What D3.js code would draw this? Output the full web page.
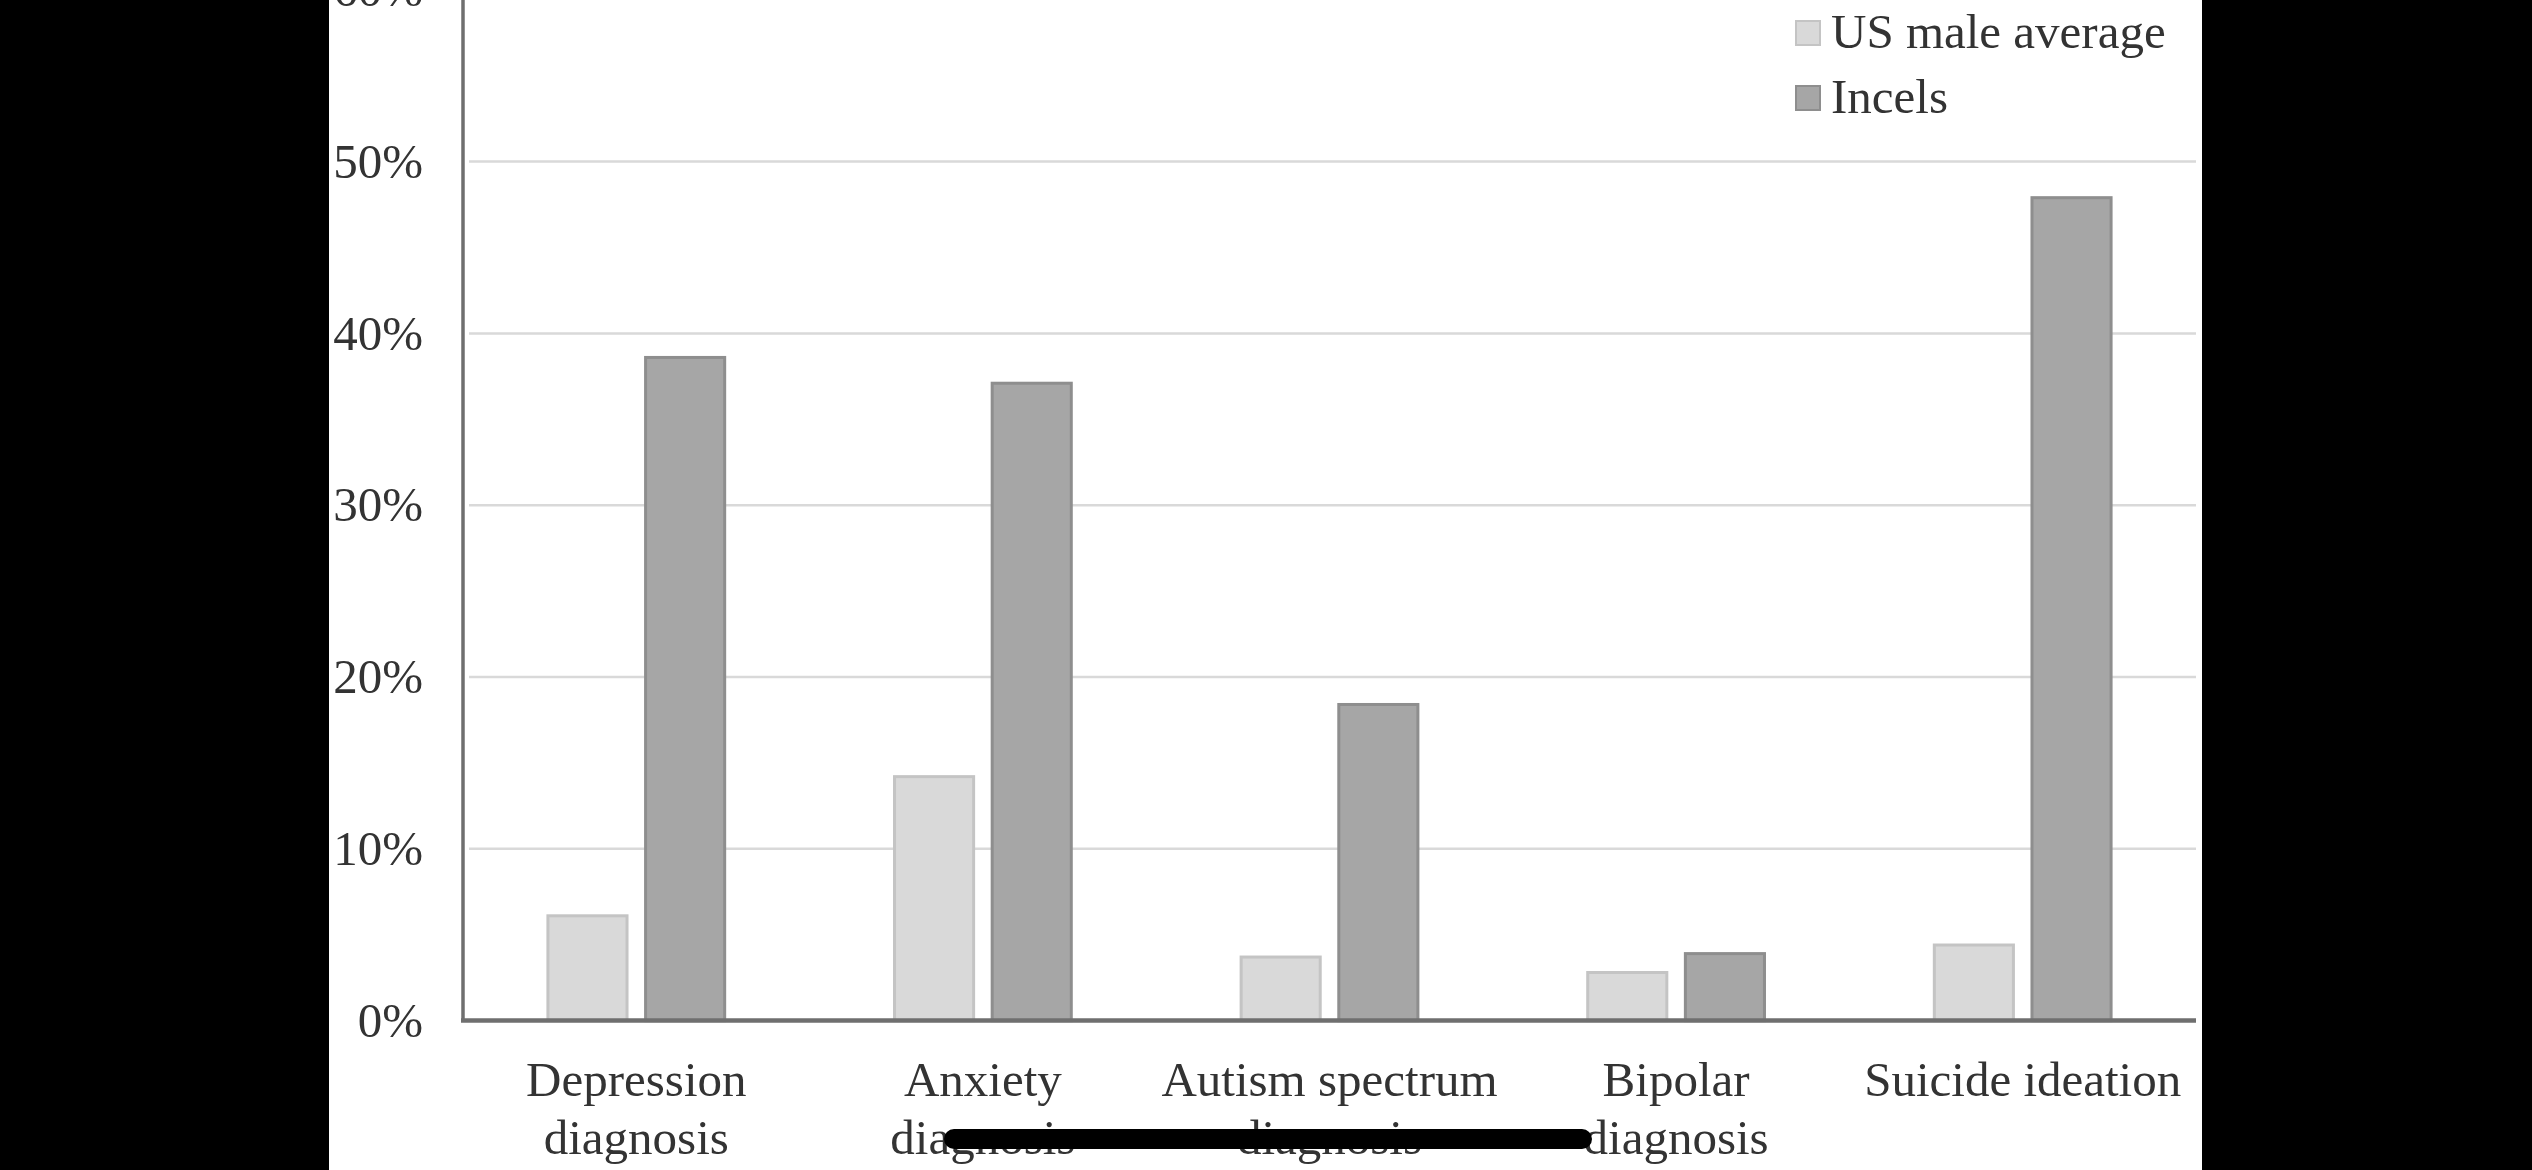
<!DOCTYPE html>
<html>
<head>
<meta charset="utf-8">
<script src="https://cdn.jsdelivr.net/npm/d3@7"></script>
<style>
  html, body { margin: 0; padding: 0; background: #000; overflow: hidden; }
  svg { display: block; }
  text { font-family: "Liberation Serif", "DejaVu Serif", serif; fill: #333; }
</style>
</head>
<body>
<div id="chart"></div>
<script>
// data
let categories = [
  "Depression diagnosis",
  "Anxiety diagnosis",
  "Autism spectrum diagnosis",
  "Bipolar diagnosis",
  "Suicide ideation",
];
let categoryLines = [
  ["Depression", "diagnosis"],
  ["Anxiety", "diagnosis"],
  ["Autism spectrum", "diagnosis"],
  ["Bipolar", "diagnosis"],
  ["Suicide ideation"],
];
let seriesNames = ["US male average", "Incels"];
let usMale = [6.1, 14.2, 3.7, 2.8, 4.4];
let incels = [38.6, 37.1, 18.4, 3.9, 47.9];
let yTicks = [0, 10, 20, 30, 40, 50, 60];

let seriesValues = [usMale, incels];
let fills = ["#d9d9d9", "#a6a6a6"];
let strokes = ["#c4c4c4", "#8e8e8e"];

let W = 2532;
let H = 1170;

// plot area
let left = 463;
let right = 2196;
let base = 1020.6;
let tenPct = 171.8;

let svg = d3
  .select("#chart")
  .append("svg")
  .attr("width", W)
  .attr("height", H);

// white page inside the black phone frame
svg
  .append("rect")
  .attr("x", 329)
  .attr("y", 0)
  .attr("width", 2202 - 329)
  .attr("height", H)
  .attr("fill", "#fff");

let y = d3
  .scaleLinear()
  .domain([0, 60])
  .range([base, base - 6 * tenPct]);

let x0 = d3
  .scaleBand()
  .domain(categories)
  .range([left, right])
  .paddingInner(0.49)
  .paddingOuter(0.245);

let x1 = d3
  .scaleBand()
  .domain(seriesNames)
  .range([0, x0.bandwidth()])
  .paddingInner(0.19);

// gridlines
svg
  .append("g")
  .selectAll("line")
  .data(yTicks.filter((d) => d > 0))
  .enter()
  .append("line")
  .attr("x1", left + 6)
  .attr("x2", right)
  .attr("y1", (d) => y(d))
  .attr("y2", (d) => y(d))
  .style("stroke", "#d9d9d9")
  .style("stroke-width", "2.5px");

// y axis labels (the 60% one is cut by the top edge, as in the screenshot)
let yAxis = svg
  .append("g")
  .attr("transform", "translate(" + left + ",0)")
  .call(
    d3
      .axisLeft(y)
      .tickValues(yTicks)
      .tickSize(0)
      .tickPadding(40)
      .tickFormat((d) => d + "%")
  );
yAxis.select(".domain").remove();
yAxis
  .selectAll("text")
  .style("font-family", "Liberation Serif, serif")
  .style("font-size", "49px")
  .style("fill", "#333");

// bars
let groups = svg
  .append("g")
  .selectAll("g")
  .data(categories)
  .enter()
  .append("g")
  .attr("transform", (d) => "translate(" + x0(d) + ",0)");

groups
  .selectAll("rect")
  .data((d, i) =>
    seriesNames.map((s, k) => ({ s: s, k: k, v: seriesValues[k][i] }))
  )
  .enter()
  .append("rect")
  .attr("x", (d) => x1(d.s))
  .attr("y", (d) => y(d.v))
  .attr("width", x1.bandwidth())
  .attr("height", (d) => base - y(d.v))
  .style("fill", (d) => fills[d.k])
  .style("stroke", (d) => strokes[d.k])
  .style("stroke-width", "3px");

// axis lines
svg
  .append("line")
  .attr("x1", left)
  .attr("x2", left)
  .attr("y1", 0)
  .attr("y2", base)
  .style("stroke", "#6f6f6f")
  .style("stroke-width", "3.5px");

svg
  .append("line")
  .attr("x1", left - 2)
  .attr("x2", right)
  .attr("y1", base)
  .attr("y2", base)
  .style("stroke", "#6f6f6f")
  .style("stroke-width", "4.5px");

// category labels
let catLabels = svg
  .append("g")
  .selectAll("text")
  .data(categories)
  .enter()
  .append("text")
  .attr("x", (d) => x0(d) + x0.bandwidth() / 2)
  .attr("y", 1096)
  .attr("text-anchor", "middle")
  .style("font-size", "49px");

catLabels
  .selectAll("tspan")
  .data((d, i) => categoryLines[i])
  .enter()
  .append("tspan")
  .attr("x", function () {
    return d3.select(this.parentNode).attr("x");
  })
  .attr("dy", (d, i) => (i == 0 ? 0 : 58))
  .text((d) => d);

// legend
let legend = svg
  .append("g")
  .selectAll("g")
  .data(seriesNames)
  .enter()
  .append("g")
  .attr("transform", (d, i) => "translate(1796," + (21 + i * 65) + ")");

legend
  .append("rect")
  .attr("width", 24)
  .attr("height", 24)
  .style("fill", (d, i) => fills[i])
  .style("stroke", (d, i) => strokes[i])
  .style("stroke-width", "2px");

legend
  .append("text")
  .attr("x", 35)
  .attr("y", 27)
  .style("font-size", "49px")
  .text((d) => d);

// the phone video scrubber that sits over the bottom of the screenshot
svg
  .append("line")
  .attr("x1", 954)
  .attr("x2", 1582)
  .attr("y1", 1139)
  .attr("y2", 1139)
  .style("stroke", "#000")
  .style("stroke-width", "20px")
  .style("stroke-linecap", "round");
</script>
</body>
</html>
